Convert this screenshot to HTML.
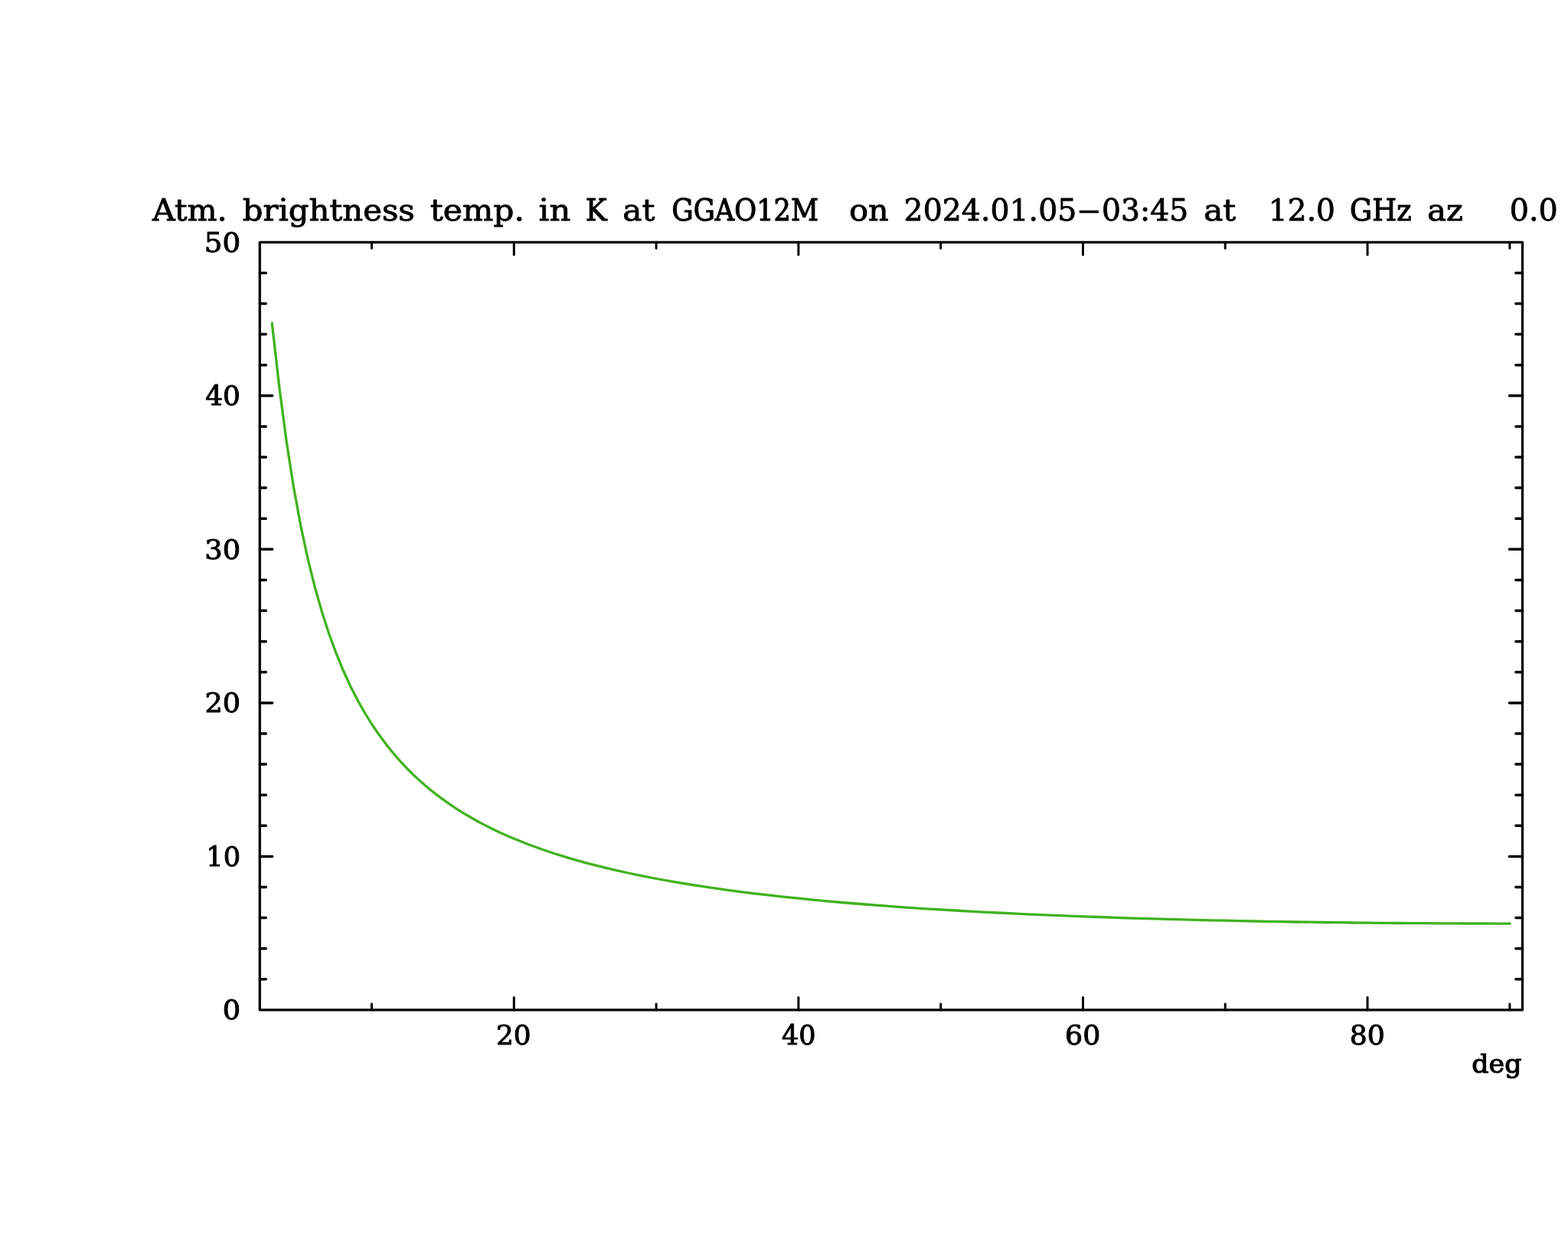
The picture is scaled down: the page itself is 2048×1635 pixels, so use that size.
<!DOCTYPE html>
<html lang="en">
<head>
<meta charset="utf-8">
<title>Atm. brightness temp.</title>
<style>
html,body{margin:0;padding:0;background:#fff;}
body{width:2048px;height:1635px;overflow:hidden;}
svg{display:block;}
text{font-family:"DejaVu Serif", "Liberation Serif", serif;font-size:35.5px;fill:#000;stroke:#000;stroke-width:1.0;stroke-linejoin:round;}
.t text{font-size:40px;}
</style>
</head>
<body>
<svg width="2048" height="1635" viewBox="0 0 2048 1635">
<rect x="0" y="0" width="2048" height="1635" fill="#ffffff"/>
<g fill="none" stroke="#000" stroke-linecap="round" stroke-linejoin="round">
<rect x="339.3" y="316.3" width="1649.2" height="1002.6" stroke-width="3.3"/>
<path stroke-width="3.0" d="M485.5 1318.9v-8.0M485.5 316.3v8.0M671.3 1318.9v-16.4M671.3 316.3v16.4M857.1 1318.9v-8.0M857.1 316.3v8.0M1042.9 1318.9v-16.4M1042.9 316.3v16.4M1228.7 1318.9v-8.0M1228.7 316.3v8.0M1414.5 1318.9v-16.4M1414.5 316.3v16.4M1600.3 1318.9v-8.0M1600.3 316.3v8.0M1786.1 1318.9v-16.4M1786.1 316.3v16.4M1971.9 1318.9v-8.0M1971.9 316.3v8.0"/>
<path stroke-width="3.5" d="M339.3 1278.8h8.0M1988.5 1278.8h-8.6M339.3 1238.7h8.0M1988.5 1238.7h-8.6M339.3 1198.6h8.0M1988.5 1198.6h-8.6M339.3 1158.5h8.0M1988.5 1158.5h-8.6M339.3 1118.4h16.4M1988.5 1118.4h-17.0M339.3 1078.3h8.0M1988.5 1078.3h-8.6M339.3 1038.2h8.0M1988.5 1038.2h-8.6M339.3 998.1h8.0M1988.5 998.1h-8.6M339.3 958.0h8.0M1988.5 958.0h-8.6M339.3 917.9h16.4M1988.5 917.9h-17.0M339.3 877.8h8.0M1988.5 877.8h-8.6M339.3 837.7h8.0M1988.5 837.7h-8.6M339.3 797.5h8.0M1988.5 797.5h-8.6M339.3 757.4h8.0M1988.5 757.4h-8.6M339.3 717.3h16.4M1988.5 717.3h-17.0M339.3 677.2h8.0M1988.5 677.2h-8.6M339.3 637.1h8.0M1988.5 637.1h-8.6M339.3 597.0h8.0M1988.5 597.0h-8.6M339.3 556.9h8.0M1988.5 556.9h-8.6M339.3 516.8h16.4M1988.5 516.8h-17.0M339.3 476.7h8.0M1988.5 476.7h-8.6M339.3 436.6h8.0M1988.5 436.6h-8.6M339.3 396.5h8.0M1988.5 396.5h-8.6M339.3 356.4h8.0M1988.5 356.4h-8.6"/>
<polyline stroke="#40b21f" stroke-width="3.3" points="355.3,422.0 365.0,507.2 374.3,577.3 383.6,636.7 392.9,687.2 402.2,730.4 411.5,767.7 420.8,800.1 430.1,828.7 439.4,853.9 448.6,876.3 457.9,896.5 467.2,914.6 476.5,931.0 485.8,946.0 495.1,959.6 504.4,972.1 513.7,983.6 523.0,994.3 532.2,1004.1 541.5,1013.3 550.8,1021.8 560.1,1029.7 569.4,1037.1 578.7,1044.1 588.0,1050.6 597.3,1056.8 606.6,1062.6 615.9,1068.0 625.1,1073.2 634.4,1078.1 643.7,1082.8 653.0,1087.2 662.3,1091.4 671.6,1095.3 690.2,1102.8 708.8,1109.5 727.3,1115.7 745.9,1121.4 764.5,1126.6 783.1,1131.4 801.7,1135.9 820.2,1140.0 838.8,1143.9 857.4,1147.5 876.0,1150.9 894.6,1154.0 913.1,1156.9 931.7,1159.7 950.3,1162.3 968.9,1164.8 987.5,1167.1 1006.0,1169.2 1024.6,1171.3 1043.2,1173.2 1061.8,1175.1 1080.4,1176.8 1098.9,1178.5 1117.5,1180.0 1136.1,1181.5 1154.7,1182.9 1173.3,1184.3 1191.8,1185.6 1210.4,1186.8 1229.0,1187.9 1247.6,1189.0 1266.2,1190.1 1284.7,1191.1 1303.3,1192.0 1321.9,1192.9 1340.5,1193.8 1359.1,1194.6 1377.6,1195.4 1396.2,1196.2 1414.8,1196.9 1433.4,1197.5 1452.0,1198.2 1470.5,1198.8 1489.1,1199.4 1507.7,1199.9 1526.3,1200.4 1544.9,1200.9 1563.4,1201.4 1582.0,1201.8 1600.6,1202.2 1619.2,1202.6 1637.8,1203.0 1656.3,1203.3 1674.9,1203.7 1693.5,1204.0 1712.1,1204.2 1730.7,1204.5 1749.2,1204.7 1767.8,1205.0 1786.4,1205.2 1805.0,1205.3 1823.6,1205.5 1842.1,1205.6 1860.7,1205.7 1879.3,1205.8 1897.9,1205.9 1916.5,1206.0 1935.0,1206.0 1953.6,1206.1 1972.2,1206.1"/>
</g>
<g class="t">
<text><tspan x="198.97" y="287.5" style="stroke-width:0.93" textLength="97.73" lengthAdjust="spacingAndGlyphs">Atm.</tspan> <tspan x="316.72" y="287.5" style="stroke-width:0.9" textLength="225.06" lengthAdjust="spacingAndGlyphs">brightness</tspan> <tspan x="561.70" y="287.5" style="stroke-width:0.86" textLength="123.35" lengthAdjust="spacingAndGlyphs">temp.</tspan> <tspan x="703.62" y="287.5" style="stroke-width:0.82" textLength="41.75" lengthAdjust="spacingAndGlyphs">in</tspan> <tspan x="764.76" y="287.5" style="stroke-width:1.14" textLength="27.94" lengthAdjust="spacingAndGlyphs">K</tspan> <tspan x="813.21" y="287.5" style="stroke-width:0.87" textLength="42.20" lengthAdjust="spacingAndGlyphs">at</tspan> <tspan x="877.56" y="287.5" style="stroke-width:1.2" textLength="191.51" lengthAdjust="spacingAndGlyphs">GGAO12M</tspan> <tspan x="1109.25" y="287.5" style="stroke-width:0.92" textLength="51.36" lengthAdjust="spacingAndGlyphs">on</tspan> <tspan x="1180.58" y="287.5" style="stroke-width:0.85" textLength="225.75" lengthAdjust="spacingAndGlyphs">2024.01.05</tspan><tspan x="1406.23" y="286.5" style="stroke-width:0.6" textLength="32.18" lengthAdjust="spacingAndGlyphs">-</tspan><tspan x="1439.04" y="287.5" style="stroke-width:0.85" textLength="113.18" lengthAdjust="spacingAndGlyphs">03:45</tspan> <tspan x="1572.17" y="287.5" style="stroke-width:0.88" textLength="42.15" lengthAdjust="spacingAndGlyphs">at</tspan> <tspan x="1656.85" y="287.5" style="stroke-width:0.85" textLength="87.11" lengthAdjust="spacingAndGlyphs">12.0</tspan> <tspan x="1763.10" y="287.5" style="stroke-width:1.18" textLength="80.54" lengthAdjust="spacingAndGlyphs">GHz</tspan> <tspan x="1864.24" y="287.5" style="stroke-width:0.91" textLength="46.72" lengthAdjust="spacingAndGlyphs">az</tspan> <tspan x="1971.77" y="287.5" style="stroke-width:0.85" textLength="63.02" lengthAdjust="spacingAndGlyphs">0.0</tspan> </text>
</g>
<g>
<text x="290.69" y="1331.4" textLength="23.42" lengthAdjust="spacingAndGlyphs">0</text>
<text x="269.28" y="1130.9" textLength="44.83" lengthAdjust="spacingAndGlyphs">10</text>
<text x="267.53" y="930.4" textLength="46.65" lengthAdjust="spacingAndGlyphs">20</text>
<text x="267.26" y="729.8" textLength="46.94" lengthAdjust="spacingAndGlyphs">30</text>
<text x="268.19" y="529.3" textLength="45.86" lengthAdjust="spacingAndGlyphs">40</text>
<text x="266.77" y="328.8" textLength="47.45" lengthAdjust="spacingAndGlyphs">50</text>
</g>
<g>
<text x="647.98" y="1364.3" textLength="45.67" lengthAdjust="spacingAndGlyphs">20</text>
<text x="1021.01" y="1364.3" textLength="44.59" lengthAdjust="spacingAndGlyphs">40</text>
<text x="1391.05" y="1364.3" textLength="46.22" lengthAdjust="spacingAndGlyphs">60</text>
<text x="1762.75" y="1364.3" textLength="46.22" lengthAdjust="spacingAndGlyphs">80</text>
<text x="1922.36" y="1400.8" style="font-size:33.5px;stroke-width:1.2" textLength="65.02" lengthAdjust="spacingAndGlyphs">deg</text>
</g>
</svg>
</body>
</html>
